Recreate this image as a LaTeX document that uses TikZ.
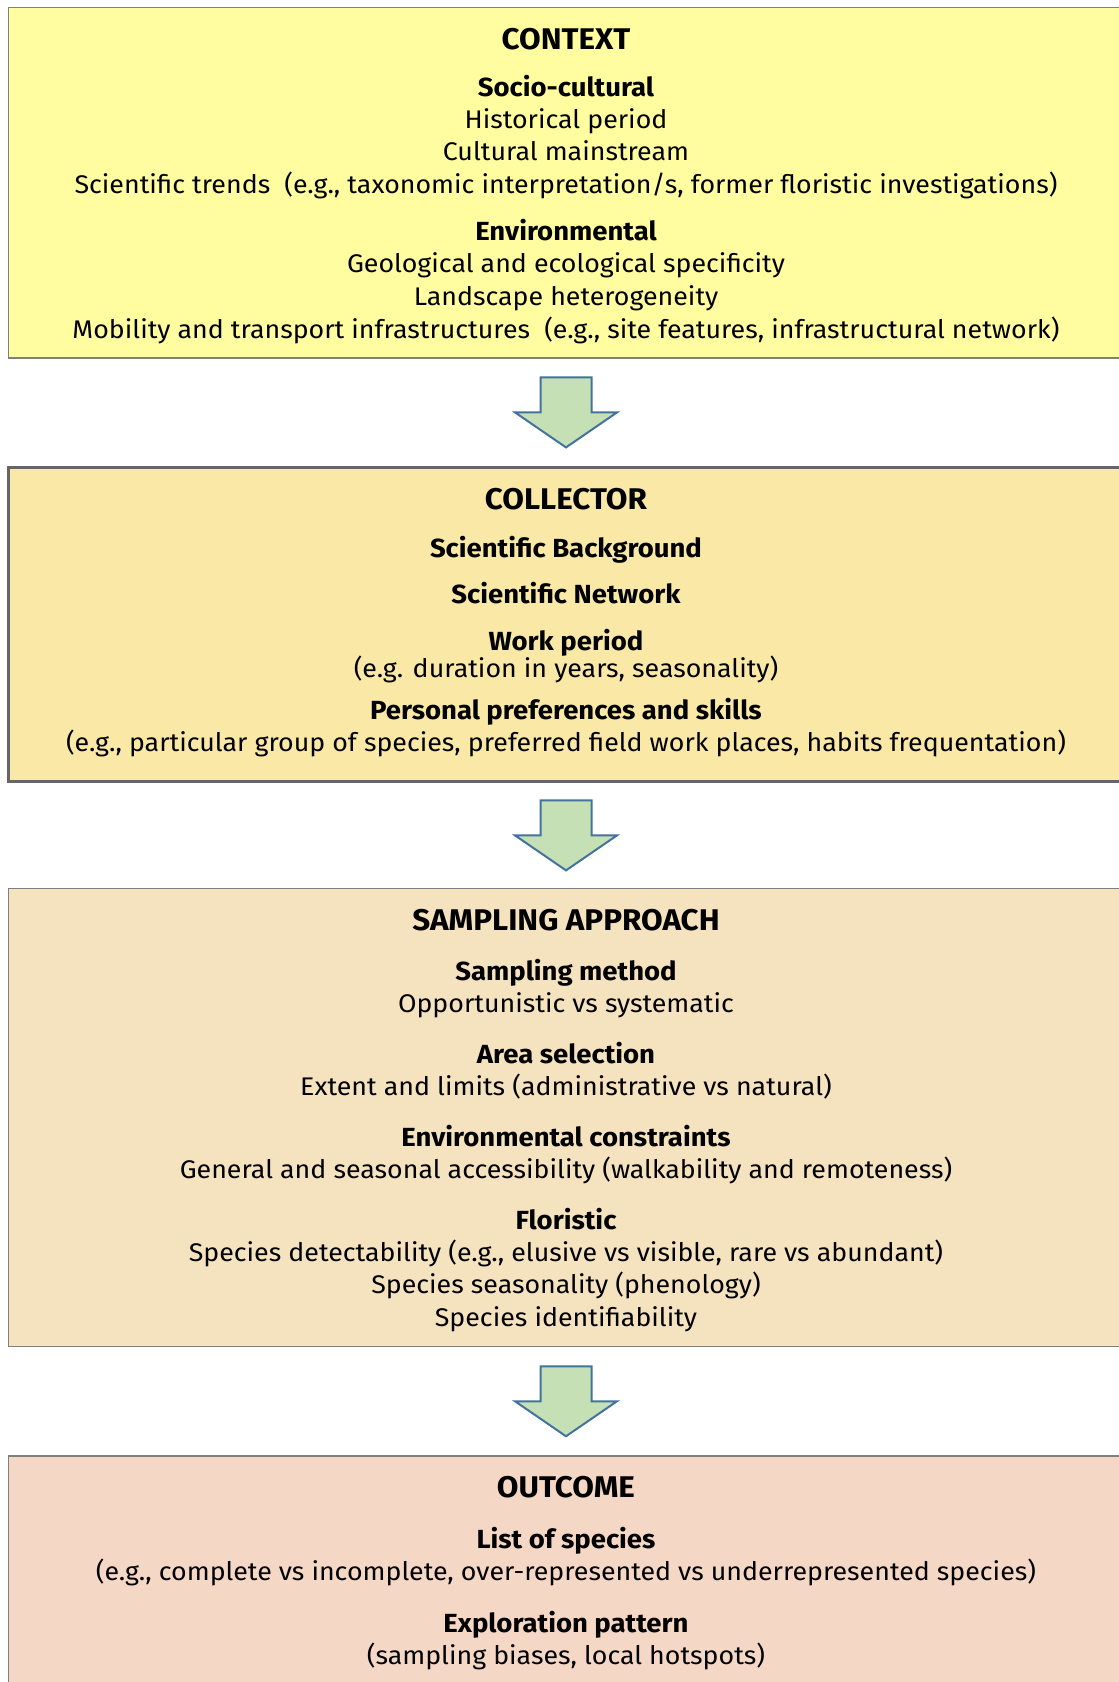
\documentclass[tikz,border=0pt]{standalone}
\usepackage{fontspec}
\setmainfont[FakeStretch=1.05]{Fira Sans}
\usetikzlibrary{calc}
\definecolor{ctxfill}{HTML}{FFFDA0}
\definecolor{colfill}{HTML}{FAE8A6}
\definecolor{samfill}{HTML}{F5E2BF}
\definecolor{outfill}{HTML}{F5D7C6}
\definecolor{boxline}{HTML}{7F7F7F}
\definecolor{arrfill}{HTML}{C5E0B4}
\definecolor{arrline}{HTML}{4472A0}
\tikzset{
box/.style={draw=boxline,line width=1.5pt,minimum width=1115pt,inner sep=0pt},
head/.style={font=\fontsize{29.9}{34}\selectfont\bfseries,inner sep=0pt,anchor=base,yshift=-10.5pt},
sub/.style={font=\fontsize{26.2}{30}\selectfont\bfseries,inner sep=0pt,anchor=base,yshift=-9.2pt},
item/.style={font=\fontsize{25.5}{30}\selectfont,inner sep=0pt,anchor=base,yshift=-8.9pt},
blockarrow/.style={draw=arrline,line width=2pt,fill=arrfill,line join=miter}
}
\begin{document}
\begin{tikzpicture}[x=1pt,y=-1pt]
\useasboundingbox (0,0) rectangle (1119,1682);
\clip (0,0) rectangle (1119,1682);
% boxes
\node[box,fill=ctxfill,minimum height=350.5pt](context) at (566,182.8) {};
\node[box,fill=colfill,draw=black!60,line width=3pt,minimum height=314pt](collector) at (566,624.5) {};
\node[box,fill=samfill,minimum height=458pt](sampling) at (566,1117.5) {};
\node[box,fill=outfill,minimum height=280pt](outcome) at (566,1596) {};
% context
\node[head](ctxhead) at (566,38.6) {CONTEXT};
\node[sub](socio) at (566,86.9) {Socio-cultural};
\node[item](hist) at (566,119.1) {Historical period};
\node[item](mainstream) at (566,151.3) {Cultural mainstream};
\node[item](trends) at (566,184.5) {Scientific trends\ \ (e.g., taxonomic interpretation/s, former floristic investigations)};
\node[sub](envir) at (566,231.7) {Environmental};
\node[item](geo) at (566,263.9) {Geological and ecological specificity};
\node[item](landscape) at (566,296.1) {Landscape heterogeneity};
\node[item](mobility) at (566,329.4) {Mobility and transport infrastructures\ \ (e.g., site features, infrastructural network)};
% collector
\node[head](colhead) at (566,498.9) {COLLECTOR};
\node[sub](background) at (566,548.3) {Scientific Background};
\node[sub](network) at (566,594.4) {Scientific Network};
\node[sub](workperiod) at (566,641.6) {Work period};
\node[item](duration) at (566,668.4) {(e.g. duration in years, seasonality)};
\node[sub](personal) at (566,710.3) {Personal preferences and skills};
\node[item](particular) at (566,742.4) {(e.g., particular group of species, preferred field work places, habits frequentation)};
% sampling approach
\node[head](samhead) at (566,919.5) {SAMPLING APPROACH};
\node[sub](method) at (566,971) {Sampling method};
\node[item](opportunistic) at (566,1003.2) {Opportunistic vs systematic};
\node[sub](area) at (566,1054.7) {Area selection};
\node[item](extent) at (566,1086.9) {Extent and limits (administrative vs natural)};
\node[sub](constraints) at (566,1137.3) {Environmental constraints};
\node[item](access) at (566,1169.5) {General and seasonal accessibility (walkability and remoteness)};
\node[sub](floristic) at (566,1219.9) {Floristic};
\node[item](detect) at (566,1252.1) {Species detectability (e.g., elusive vs visible, rare vs abundant)};
\node[item](season) at (566,1284.3) {Species seasonality (phenology)};
\node[item](ident) at (566,1317.5) {Species identifiability};
% outcome
\node[head](outhead) at (566,1487) {OUTCOME};
\node[sub](list) at (566,1539.6) {List of species};
\node[item](complete) at (566,1571.8) {(e.g., complete vs incomplete, over-represented vs underrepresented species)};
\node[sub](pattern) at (566,1623.3) {Exploration pattern};
\node[item](biases) at (566,1655.5) {(sampling biases, local hotspots)};
% arrows between boxes
\foreach \a/\b in {context/collector,collector/sampling,sampling/outcome}{
  \coordinate (m) at ($(\a.south)!0.5!(\b.north)$);
  \draw[blockarrow] ($(m)+(-25.5,-35)$) -- ($(m)+(-25.5,0)$) -- ($(m)+(-51,0)$)
    -- ($(m)+(0,35)$) -- ($(m)+(51,0)$) -- ($(m)+(25.5,0)$) -- ($(m)+(25.5,-35)$) -- cycle;
}
\end{tikzpicture}
\end{document}
